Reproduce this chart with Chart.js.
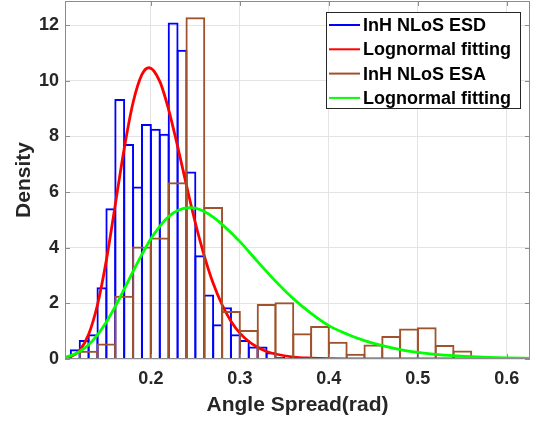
<!DOCTYPE html>
<html><head><meta charset="utf-8">
<script src="https://cdn.jsdelivr.net/npm/chart.js@4.4.1/dist/chart.umd.min.js"></script>
<style>html,body{margin:0;padding:0;background:#fff}#wrap{width:534px;height:423px;position:relative}</style>
</head><body><div id="wrap"><canvas id="c" width="534" height="423"></canvas></div>
<script>
// ---- data ----
const esdBinCenters = [0.115,0.125,0.135,0.145,0.155,0.165,0.175,0.185,0.195,0.205,0.215,0.225,0.235,0.245,0.255,0.265,0.275,0.285,0.295,0.305,0.315,0.325,0.335,0.345];
const esdDensity    = [0.35,0.68,0.89,2.58,5.42,9.35,7.73,6.20,8.45,8.28,8.10,12.10,11.12,6.74,3.73,2.32,1.25,1.86,0.89,0.68,0.45,0.45,0.24,0.07];
const esaBinCenters = [0.13,0.15,0.17,0.19,0.21,0.23,0.25,0.27,0.29,0.31,0.33,0.35,0.37,0.39,0.41,0.43,0.45,0.47,0.49,0.51,0.53,0.55];
const esaDensity    = [0.30,0.56,2.27,4.04,4.37,6.35,12.29,5.46,1.73,1.04,1.98,2.04,0.93,1.19,0.62,0.19,0.52,0.83,1.10,1.14,0.50,0.31];
const esdFitX = [0.103,0.11,0.12,0.13,0.14,0.15,0.16,0.17,0.18,0.19,0.198,0.21,0.22,0.23,0.24,0.25,0.26,0.27,0.28,0.29,0.30,0.31,0.32,0.33,0.34,0.36,0.38,0.40,0.45,0.626];
const esdFitY = [0.03,0.08,0.31,0.88,1.95,3.56,5.55,7.56,9.22,10.23,10.47,9.98,8.96,7.65,6.24,4.89,3.71,2.72,1.95,1.36,0.93,0.63,0.42,0.27,0.18,0.07,0.03,0.01,0.0,0.0];
const esaFitX = [0.103,0.11,0.12,0.13,0.14,0.15,0.16,0.17,0.18,0.19,0.20,0.21,0.22,0.23,0.2435,0.25,0.26,0.27,0.28,0.30,0.32,0.34,0.36,0.38,0.40,0.42,0.44,0.46,0.48,0.50,0.52,0.54,0.56,0.58,0.60,0.626];
const esaFitY = [0.06,0.12,0.27,0.51,0.87,1.33,1.89,2.51,3.15,3.76,4.32,4.77,5.12,5.34,5.44,5.42,5.30,5.10,4.84,4.22,3.50,2.80,2.17,1.64,1.20,0.90,0.66,0.48,0.34,0.24,0.17,0.12,0.085,0.06,0.04,0.026];
const xTicks = [0.2,0.3,0.4,0.5,0.6];
const yTicks = [0,2,4,6,8,10,12];
const seriesLabels = ['InH NLoS ESD','Lognormal fitting','InH NLoS ESA','Lognormal fitting'];
const xTitle = 'Angle Spread(rad)';
const yTitle = 'Density';

const FONT = "'Liberation Sans', Arial, Helvetica, sans-serif";
const XMIN = 0.1035, XMAX = 0.626, YMAX = 12.87;

const pts = (xs, ys) => xs.map((x, i) => ({x, y: ys[i]}));

const frame = {
  id: 'frame',
  afterDraw(chart) {
    const {ctx, chartArea: a, scales} = chart;
    ctx.save();
    ctx.strokeStyle = '#8c8c8c';
    ctx.lineWidth = 1;
    ctx.strokeRect(a.left + 0.5, a.top + 0.5, a.right - a.left - 1, a.bottom - a.top - 1);
    ctx.beginPath();
    xTicks.forEach(v => {
      const px = Math.round(scales.x.getPixelForValue(v)) + 0.5;
      ctx.moveTo(px, a.bottom); ctx.lineTo(px, a.bottom - 5);
      ctx.moveTo(px, a.top); ctx.lineTo(px, a.top + 5);
    });
    yTicks.forEach(v => {
      const py = Math.round(scales.y.getPixelForValue(v)) + 0.5;
      ctx.moveTo(a.left, py); ctx.lineTo(a.left + 5, py);
      ctx.moveTo(a.right, py); ctx.lineTo(a.right - 5, py);
    });
    ctx.stroke();
    // legend
    const lx = 326, ly = 12, lw = 194, lh = 96;
    ctx.fillStyle = '#fff';
    ctx.fillRect(lx, ly, lw, lh);
    ctx.strokeStyle = '#262626';
    ctx.strokeRect(lx + 0.5, ly + 0.5, lw, lh);
    ctx.font = 'bold 18px ' + FONT;
    ctx.textBaseline = 'middle';
    ctx.textAlign = 'left';
    chart.data.datasets.forEach((ds, i) => {
      const cy = 25 + i * 24.3;
      ctx.strokeStyle = ds.borderColor;
      ctx.lineWidth = 2;
      ctx.beginPath(); ctx.moveTo(329, cy); ctx.lineTo(360, cy); ctx.stroke();
      ctx.fillStyle = '#000';
      ctx.fillText(ds.label, 363, cy + 1);
    });
    ctx.restore();
  }
};

const fixTicks = vals => s => { s.ticks = vals.map(v => ({value: v})); };

new Chart(document.getElementById('c'), {
  data: {
    datasets: [
      {type: 'bar', label: seriesLabels[0], data: pts(esdBinCenters, esdDensity), xAxisID: 'x',
       backgroundColor: 'rgba(0,0,0,0)', borderColor: '#0000ff', borderWidth: 2, borderSkipped: 'bottom',
       barPercentage: 1.22, categoryPercentage: 1, grouped: false, order: 4},
      {type: 'line', label: seriesLabels[1], data: pts(esdFitX, esdFitY), xAxisID: 'x',
       borderColor: '#ff0000', borderWidth: 2.8, pointRadius: 0, cubicInterpolationMode: 'monotone', fill: false, order: 3},
      {type: 'bar', label: seriesLabels[2], data: pts(esaBinCenters, esaDensity), xAxisID: 'x2',
       backgroundColor: 'rgba(0,0,0,0)', borderColor: '#a0522d', borderWidth: 2, borderSkipped: 'bottom',
       barPercentage: 1.11, categoryPercentage: 1, grouped: false, order: 2},
      {type: 'line', label: seriesLabels[3], data: pts(esaFitX, esaFitY), xAxisID: 'x',
       borderColor: '#00ff00', borderWidth: 2.8, pointRadius: 0, cubicInterpolationMode: 'monotone', fill: false, order: 1}
    ]
  },
  options: {
    responsive: false, animation: false, devicePixelRatio: 1,
    layout: {padding: {left: 0, right: 4, top: 1, bottom: 0}},
    plugins: {legend: {display: false}, tooltip: {enabled: false}},
    scales: {
      x: {
        type: 'linear', position: 'bottom', min: XMIN, max: XMAX, offset: false,
        afterBuildTicks: fixTicks(xTicks),
        afterFit: s => { s.height = 64; s.paddingLeft = 0; s.paddingRight = 0; },
        grid: {color: '#e4e4e4', drawTicks: false, offset: false},
        border: {display: false},
        ticks: {padding: 9, color: '#262626', font: {family: FONT, size: 18, weight: 'bold'},
                callback: v => v.toFixed(1), maxRotation: 0, autoSkip: false},
        title: {display: true, text: xTitle, color: '#262626', padding: {top: 4, bottom: 5},
                font: {family: FONT, size: 21, weight: 'bold'}}
      },
      x2: {
        type: 'linear', position: 'bottom', min: XMIN, max: XMAX, display: false, offset: false,
        grid: {offset: false},
        afterBuildTicks: fixTicks(xTicks)
      },
      y: {
        type: 'linear', min: 0, max: YMAX,
        afterBuildTicks: fixTicks(yTicks),
        afterFit: s => { s.width = 65; s.paddingTop = 0; s.paddingBottom = 0; },
        grid: {color: '#e4e4e4', drawTicks: false},
        border: {display: false},
        ticks: {padding: 6, color: '#262626', font: {family: FONT, size: 18, weight: 'bold'}, autoSkip: false},
        title: {display: true, text: yTitle, color: '#262626', padding: {top: 12, bottom: 0},
                font: {family: FONT, size: 21, weight: 'bold'}}
      }
    }
  },
  plugins: [frame]
});
</script>
</body></html>
